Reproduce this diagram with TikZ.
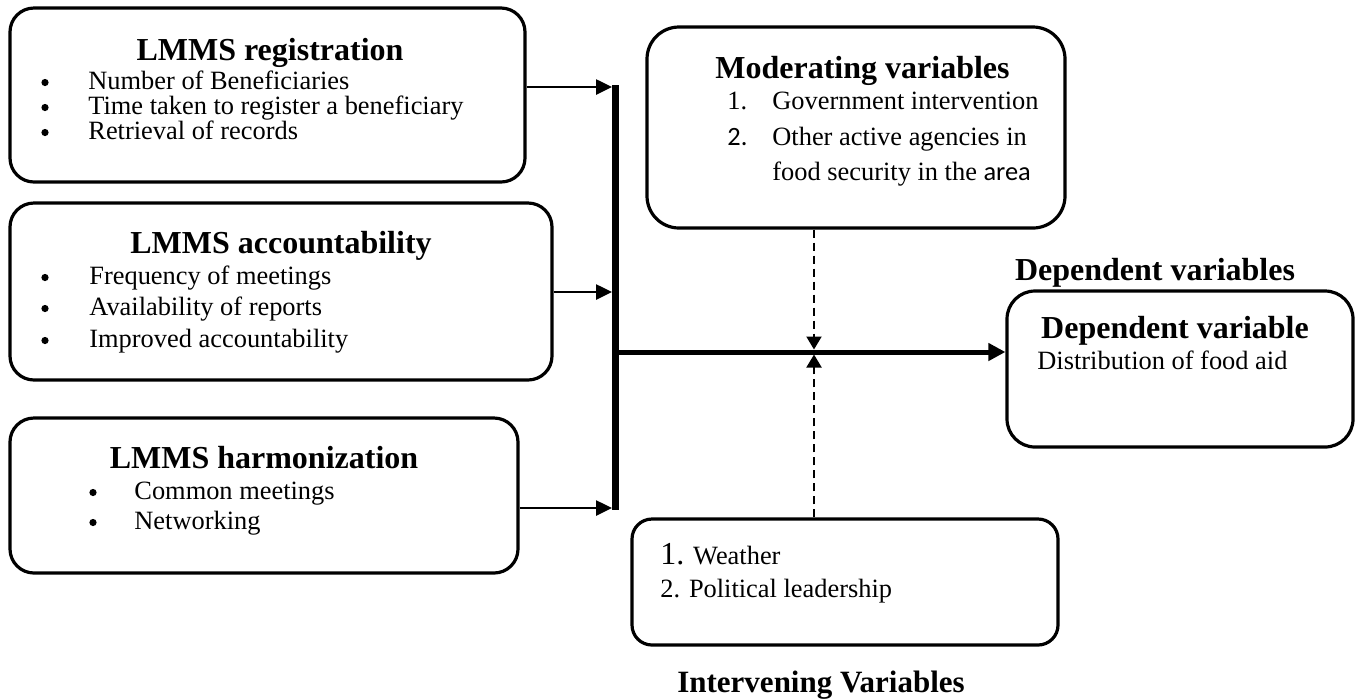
\documentclass[tikz,border=0pt]{standalone}
\usepackage{fontspec}
\setmainfont{Liberation Serif}
\newfontfamily\calfont{Carlito}
\usetikzlibrary{arrows.meta,fit}
\begin{document}
\begin{tikzpicture}[x=0.5pt,y=-0.5pt,
  box/.style={draw,line width=1.6pt,rounded corners=12pt,inner sep=0pt},
  ttl/.style={font=\bfseries\fontsize{16}{19}\selectfont,inner sep=0pt,anchor=base},
  itm/.style={font=\fontsize{13.2}{16}\selectfont,inner sep=0pt,anchor=base west},
  bul/.style={circle,fill,inner sep=0pt,minimum size=3.6pt},
  thinarrow/.style={line width=1.3pt,-{Triangle[length=8pt,width=7.5pt]}},
  mainarrow/.style={line width=2.5pt,-{Triangle[length=8.5pt,width=8.5pt]}},
  dasharrow/.style={line width=1pt,dash pattern=on 4pt off 2.5pt,-{Triangle[length=6.5pt,width=7.5pt]}},
]
\useasboundingbox (0,0) rectangle (1358,698);

% Box 1
\node[box,fit={(10,8)(525,182)}] (b1) {};
\node[ttl] (b1t) at (270,60) {LMMS registration};
\node[bul] (b1ba) at (45,82.5) {};
\node[bul] (b1bb) at (45,107.5) {};
\node[bul] (b1bc) at (45,132.5) {};
\node[itm] (b1a) at (88,89) {Number of Beneficiaries};
\node[itm] (b1b) at (88,114) {Time taken to register a beneficiary};
\node[itm] (b1c) at (88,139) {Retrieval of records};

% Box 2
\node[box,fit={(10,203)(552,380)}] (b2) {};
\node[ttl] (b2t) at (281,253) {LMMS accountability};
\node[bul] (b2ba) at (45,277.5) {};
\node[bul] (b2bb) at (45,308.5) {};
\node[bul] (b2bc) at (45,340.5) {};
\node[itm] (b2a) at (89,284) {Frequency of meetings};
\node[itm] (b2b) at (89,315) {Availability of reports};
\node[itm] (b2c) at (89,347) {Improved accountability};

% Box 3
\node[box,fit={(10,418)(518,573)}] (b3) {};
\node[ttl] (b3t) at (264,468) {LMMS harmonization};
\node[bul] (b3ba) at (93,492.5) {};
\node[bul] (b3bb) at (93,522.5) {};
\node[itm] (b3a) at (134,499) {Common meetings};
\node[itm] (b3b) at (134,529) {Networking};

% Moderating
\node[box,rounded corners=16pt,fit={(647,27)(1065,228)}] (mod) {};
\node[ttl,anchor=base west] (modt) at (715,78) {Moderating variables};
\node[itm] (m1n) at (727,109) {1.};
\node[itm] (m1) at (772,109) {Government intervention};
\node[itm] (m2n) at (727,145) {\calfont 2.};
\node[itm] (m2) at (772,145) {Other active agencies in};
\node[itm] (m3) at (772,180) {food security in the {\calfont area}};

% Dependent
\node[ttl] (deplab) at (1155,280) {Dependent variables};
\node[box,rounded corners=14pt,fit={(1007,291)(1353,447)}] (dep) {};
\node[ttl] (dept) at (1175,338) {Dependent variable};
\node[itm] (depa) at (1037,369) {Distribution of food aid};

% Intervening
\node[box,rounded corners=10pt,fit={(632,519)(1058,645)}] (int) {};
\node[itm] (i1) at (660,564) {{\fontsize{16}{16}\selectfont 1.} Weather};
\node[itm] (i2) at (660,597) {2. Political leadership};
\node[ttl,font=\bfseries\fontsize{15.5}{18}\selectfont] (intlab) at (821,692) {Intervening Variables};

% Connectors
\coordinate (t1) at (612,87);
\coordinate (t2) at (612,292);
\coordinate (t3) at (612,508);
\coordinate (barT) at (615,85);
\coordinate (barB) at (615,510);
\coordinate (j) at (615,352);
\coordinate (xa) at (814,349.5);
\coordinate (xb) at (814,354.5);

\draw[line width=3.5pt] (barT) -- (barB);
\draw[thinarrow] (b1.east |- t1) -- (t1);
\draw[thinarrow] (b2.east |- t2) -- (t2);
\draw[thinarrow] (b3.east |- t3) -- (t3);
\draw[mainarrow] (j) -- (j -| dep.west);
\draw[dasharrow] (xa |- mod.south) -- (xa);
\draw[dasharrow] (xb |- int.north) -- (xb);
\end{tikzpicture}
\end{document}
